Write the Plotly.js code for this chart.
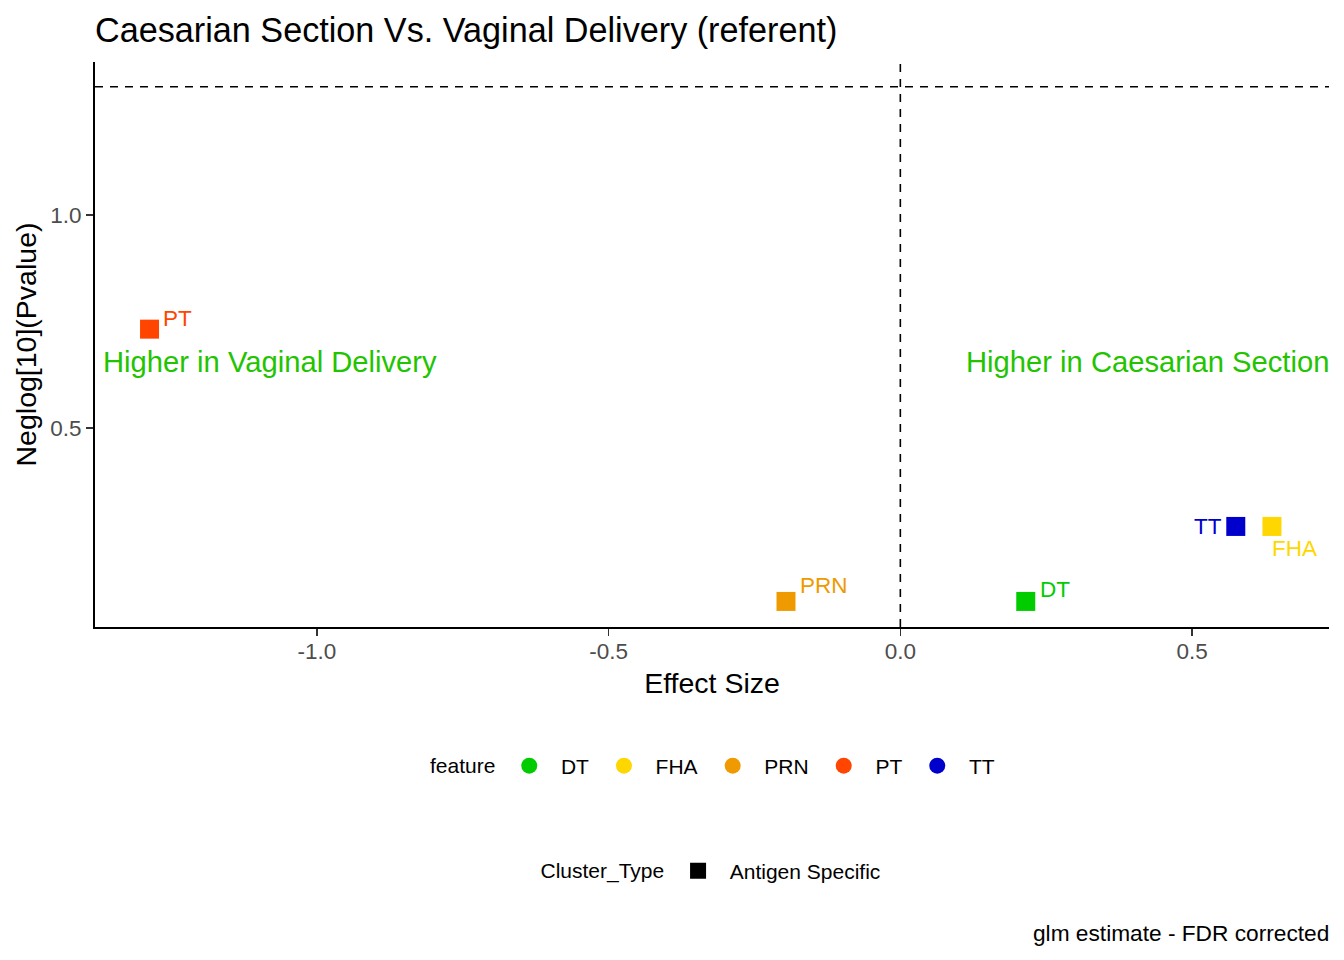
<!DOCTYPE html>
<html>
<head>
<meta charset="utf-8">
<script src="https://cdn.plot.ly/plotly-3.0.1.min.js"></script>
<style>
  html, body { margin: 0; padding: 0; background: #fff; }
  #plot { width: 1344px; height: 960px; }
</style>
</head>
<body>
<div id="plot"></div>
<script>
// DATA =========================================================
var features = ['DT', 'FHA', 'PRN', 'PT', 'TT'];
var effectSize = [0.215, 0.637, -0.196, -1.287, 0.575];
var neglogP = [0.093, 0.269, 0.093, 0.732, 0.269];
var featureColors = ['#00CC00', '#FFD700', '#EE9A00', '#FF4500', '#0000CD'];

var clusterTypes = ['Antigen Specific'];

var xTickVals = [-1.0, -0.5, 0.0, 0.5];
var xTickText = ['-1.0', '-0.5', '0.0', '0.5'];
var yTickVals = [0.5, 1.0];
var yTickText = ['0.5', '1.0'];

var pThreshold = -Math.log10(0.05);  // dashed significance line
var effectRef = 0;                    // dashed no-effect line

// label nudges (px) like ggrepel put them
var labelDx = [29, 23, 37.5, 27.5, -28];
var labelDy = [11.5, -22.5, 15.5, 11, -0.5];

// PLOT =========================================================
var font = 'Liberation Sans, Arial, sans-serif';
var NB = '\u00A0';
var data = [];

// points, one trace per feature
for (var i = 0; i < features.length; i++) {
    data.push({
        x: [effectSize[i]],
        y: [neglogP[i]],
        type: 'scatter',
        mode: 'markers',
        name: features[i],
        marker: { symbol: 'square', size: 19, color: featureColors[i] },
        showlegend: false,
        hoverinfo: 'x+y+name'
    });
}

// legend keys (ggplot shows circles for the colour scale)
for (var i = 0; i < features.length; i++) {
    data.push({
        x: [null],
        y: [null],
        type: 'scatter',
        mode: 'markers',
        name: NB + NB + features[i] + NB + '\u2009',
        marker: { symbol: 'circle', size: 19, color: featureColors[i] },
        legend: 'legend'
    });
}
for (var i = 0; i < clusterTypes.length; i++) {
    data.push({
        x: [null],
        y: [null],
        type: 'scatter',
        mode: 'markers',
        name: NB + NB + clusterTypes[i],
        marker: { symbol: 'square', size: 19, color: 'black' },
        legend: 'legend2'
    });
}

var annotations = [];
for (var i = 0; i < features.length; i++) {
    annotations.push({
        x: effectSize[i],
        y: neglogP[i],
        xref: 'x', yref: 'y',
        text: features[i],
        showarrow: false,
        xshift: labelDx[i],
        yshift: labelDy[i],
        font: { family: font, size: 22.5, color: featureColors[i] }
    });
}
annotations.push({
    x: 0.0049, y: 0.655, xref: 'paper', yref: 'y',
    text: 'Higher in Vaginal Delivery',
    xanchor: 'left', showarrow: false,
    font: { family: font, size: 29.2, color: '#22C400' }
});
annotations.push({
    x: 1, y: 0.655, xref: 'paper', yref: 'y',
    text: 'Higher in Caesarian Section',
    xanchor: 'right', xshift: 2, showarrow: false,
    font: { family: font, size: 29.2, color: '#22C400' }
});
annotations.push({
    x: 1, y: -0.5416, xref: 'paper', yref: 'paper',
    text: 'glm estimate - FDR corrected',
    xanchor: 'right', yanchor: 'middle', xshift: 2, showarrow: false,
    font: { family: font, size: 22.7, color: 'black' }
});

var layout = {
    width: 1344,
    height: 960,
    margin: { l: 95, r: 15, t: 62, b: 333 },
    paper_bgcolor: 'white',
    plot_bgcolor: 'white',
    font: { family: font, color: 'black' },
    title: {
        text: 'Caesarian Section Vs. Vaginal Delivery (referent)',
        font: { family: font, size: 34.2, color: 'black' },
        xref: 'paper', x: 0, xanchor: 'left',
        yref: 'container', y: 1 - 30 / 960, yanchor: 'middle'
    },
    xaxis: {
        range: [-1.3805, 0.7348],
        tickvals: xTickVals,
        ticktext: xTickText,
        showgrid: false,
        zeroline: false,
        showline: true,
        linecolor: 'black',
        linewidth: 2,
        ticks: 'outside',
        ticklen: 7,
        tickwidth: 1.5,
        tickcolor: '#333333',
        ticklabelstandoff: -4,
        tickfont: { family: font, size: 22.5, color: '#4D4D4D' },
        title: { text: 'Effect Size', font: { family: font, size: 28.5, color: 'black' }, standoff: 10 }
    },
    yaxis: {
        range: [0.033, 1.359],
        tickvals: yTickVals,
        ticktext: yTickText,
        showgrid: false,
        zeroline: false,
        showline: true,
        linecolor: 'black',
        linewidth: 2,
        ticks: 'outside',
        ticklen: 7,
        tickwidth: 1.5,
        tickcolor: '#333333',
        tickfont: { family: font, size: 22.5, color: '#4D4D4D' },
        title: { text: 'Neglog[10](Pvalue)', font: { family: font, size: 28.5, color: 'black' }, standoff: 5 }
    },
    shapes: [
        {
            type: 'line', xref: 'paper', yref: 'y',
            x0: 0, x1: 1, y0: pThreshold, y1: pThreshold,
            line: { color: 'black', width: 1.6, dash: '8px,7px' }
        },
        {
            type: 'line', xref: 'x', yref: 'paper',
            x0: effectRef, x1: effectRef, y0: 0, y1: 1,
            line: { color: 'black', width: 1.6, dash: '8px,7px' }
        }
    ],
    annotations: annotations,
    legend: {
        orientation: 'h',
        x: 0.5057, xanchor: 'center',
        y: -0.246, yanchor: 'middle',
        font: { family: font, size: 21, color: 'black' },
        title: { text: 'feature' + NB, side: 'left', font: { family: font, size: 21, color: 'black' } },
        itemsizing: 'trace',
        bgcolor: 'rgba(0,0,0,0)'
    },
    legend2: {
        orientation: 'h',
        x: 0.5, xanchor: 'center',
        y: -0.432, yanchor: 'middle',
        font: { family: font, size: 21, color: 'black' },
        title: { text: 'Cluster_Type' + NB, side: 'left', font: { family: font, size: 21, color: 'black' } },
        itemsizing: 'trace',
        bgcolor: 'rgba(0,0,0,0)'
    },
    showlegend: true
};

Plotly.newPlot('plot', data, layout, { displayModeBar: false, staticPlot: true });
</script>
</body>
</html>
